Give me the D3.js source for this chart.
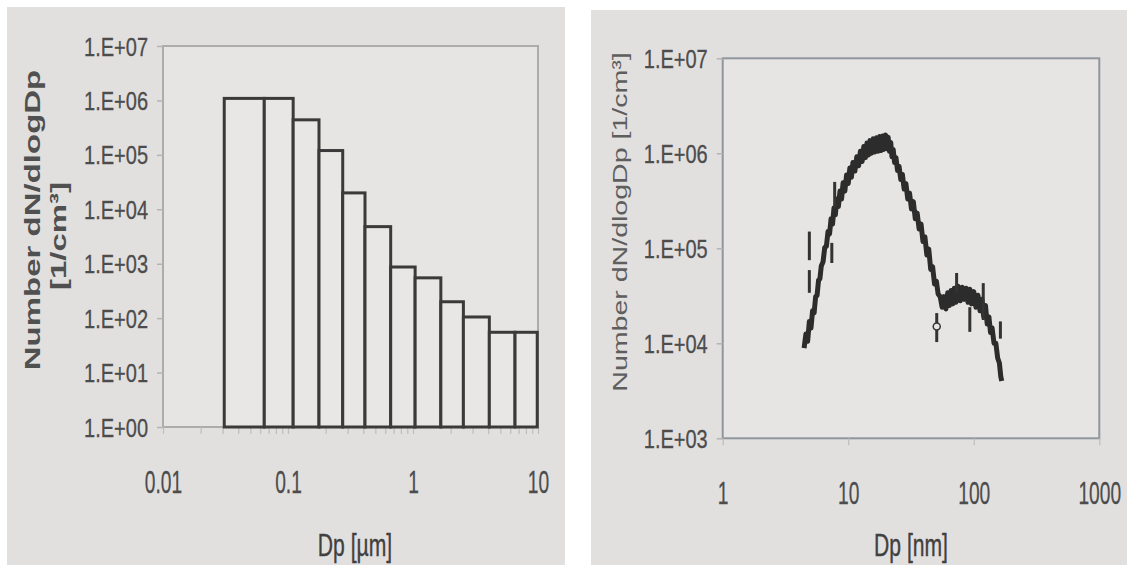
<!DOCTYPE html>
<html>
<head>
<meta charset="utf-8">
<script src="https://cdn.jsdelivr.net/npm/d3@7"></script>
<style>
    html, body { margin: 0; padding: 0; background: #fff; }
    svg { display: block; }
    text { font-family: "Liberation Sans", Arial, sans-serif; }
</style>
</head>
<body>
<svg id="chart" width="1127" height="565"></svg>
<script>
// ---- left chart: impactor stages (um) ----
const stageEdges = [0.0309, 0.0646, 0.110, 0.177, 0.274, 0.413, 0.663, 1.04, 1.67, 2.53, 4.08, 6.55, 9.86];
const stageValues = [1.09e6, 1.09e6, 4.4e5, 1.2e5, 2.0e4, 4.8e3, 870, 550, 200, 105, 55, 55];
const leftYTicks = [1, 1e1, 1e2, 1e3, 1e4, 1e5, 1e6, 1e7];
const leftXTicks = [0.01, 0.1, 1, 10];

// ---- right chart: scanning sizer (nm) ----
const scanDp = [4.45, 4.6, 4.75, 4.9, 5.05, 5.2, 5.35, 5.5, 5.65, 5.8, 5.95, 6.1, 6.3, 6.5, 6.7, 6.9, 7.1, 7.3, 7.5, 7.7,
    7.9, 8.1, 8.35, 8.6, 8.85, 9.1, 9.4, 9.7, 10.0, 10.3, 10.6, 10.9, 11.3, 11.7, 12.1, 12.5, 12.9, 13.3, 13.7, 14.1,
    14.5, 14.9, 15.3, 15.8, 16.3, 16.8, 17.3, 17.8, 18.3, 18.8, 19.3, 19.8, 20.3, 20.8, 21.3, 21.8, 22.3, 22.8, 23.4, 24.0,
    24.7, 25.4, 26.2, 27.0, 27.9, 28.8, 29.8, 30.8, 31.9, 33.0, 34.2, 35.4, 36.7, 38.0, 39.4, 40.8, 42.3, 43.8, 45.4, 47.0,
    48.7, 50.4, 52, 54, 56, 58, 60, 62, 64, 66, 68, 70, 72, 75, 78, 81, 84, 87, 90, 93,
    96, 100, 104, 108, 112, 116, 120, 124, 128, 132, 136, 140, 145, 150, 155, 160, 164, 167];
const scanN = [8.9e3, 1.25e4, 1.05e4, 1.7e4, 1.45e4, 2.2e4, 2.1e4, 3.1e4, 3.2e4, 4.6e4, 4.8e4, 6.5e4, 7.2e4, 1.02e5, 1.05e5, 1.5e5, 1.42e5, 2.05e5, 1.8e5, 2.65e5,
    2.25e5, 3.3e5, 2.75e5, 4.0e5, 3.3e5, 4.9e5, 4.0e5, 5.9e5, 4.8e5, 7.0e5, 5.6e5, 8.0e5, 6.5e5, 9.2e5, 7.4e5, 1.05e6, 8.2e5, 1.18e6, 9.0e5, 1.28e6,
    9.6e5, 1.36e6, 1.0e6, 1.42e6, 1.03e6, 1.46e6, 1.05e6, 1.5e6, 1.07e6, 1.52e6, 1.1e6, 1.56e6, 1.12e6, 1.48e6, 1.05e6, 1.3e6, 9.2e5, 1.1e6, 8.0e5, 9.0e5,
    6.6e5, 7.3e5, 5.3e5, 6.0e5, 4.2e5, 4.8e5, 3.3e5, 3.8e5, 2.6e5, 3.1e5, 2.05e5, 2.35e5, 1.6e5, 1.8e5, 1.18e5, 1.32e5, 8.5e4, 9.8e4, 6.0e4, 6.4e4,
    4.2e4, 4.5e4, 3.3e4, 3.1e4, 2.4e4, 3.1e4, 2.3e4, 3.4e4, 2.5e4, 3.6e4, 2.6e4, 3.8e4, 2.7e4, 4.0e4, 2.8e4, 3.9e4, 2.9e4, 3.8e4, 2.7e4, 3.7e4,
    2.6e4, 3.5e4, 2.4e4, 3.2e4, 2.2e4, 2.9e4, 1.9e4, 2.5e4, 1.6e4, 1.9e4, 1.3e4, 1.45e4, 1.0e4, 1.0e4, 7.0e3, 6.2e3, 4.5e3, 4.0e3];
// scattered spikes off the curve: [Dp, low, high]
const scanSpikes = [[4.9, 7.5e4, 1.5e5], [4.9, 3.4e4, 5.9e4], [7.4, 7.0e4, 1.14e5], [7.8, 2.7e5, 5.0e5],
    [50.7, 1.03e4, 2.08e4], [73, 3.4e4, 5.5e4], [93, 1.32e4, 2.4e4], [119, 1.76e4, 4.3e4], [163, 1.12e4, 1.7e4]];
const scanRings = [[50.7, 1.5e4]];
const rightYTicks = [1e3, 1e4, 1e5, 1e6, 1e7];
const rightXTicks = [1, 10, 100, 1000];

const svg = d3.select('#chart');
const ink = '#3a3a3a';
const label = '#4c4c4c';

const expLabel = d => '1.E+' + String(Math.round(Math.log10(d))).padStart(2, '0');

// squeeze text horizontally (the scanned figure is stretched vertically)
function squeeze(sel, sx) {
    sel.each(function() {
        const t = d3.select(this);
        const x = +t.attr('x') || 0;
        t.attr('x', x / sx).attr('transform', `scale(${sx},1)`);
    });
}

function panel(x0, y0, x1, y1) {
    svg.append('rect').attr('x', x0).attr('y', y0)
        .attr('width', x1 - x0).attr('height', y1 - y0)
        .attr('fill', '#e2e0de');
}

function yAxis(g, y, ticks) {
    g.call(d3.axisLeft(y).tickValues(ticks).tickFormat(expLabel).tickSize(6).tickPadding(9));
    g.select('.domain').remove();
    g.selectAll('line').attr('stroke', '#b4b4b4').attr('stroke-width', 1.5);
    g.selectAll('text')
        .attr('fill', label).attr('stroke', label).attr('stroke-width', 0.3)
        .style('font-size', '25px').attr('dy', '0.36em');
    squeeze(g.selectAll('text'), 0.8);
}

function xAxis(g, x, ticks, labelled) {
    g.call(d3.axisBottom(x).tickValues(ticks)
        .tickFormat(d => labelled.includes(d) ? String(d) : '').tickSize(7));
    g.select('.domain').remove();
    g.selectAll('line').attr('stroke', '#bdbdbd').attr('stroke-width', 1.2);
    g.selectAll('text')
        .attr('fill', label).attr('stroke', label).attr('stroke-width', 0.3)
        .style('font-size', '32px').attr('y', 66).attr('dy', 0);
    squeeze(g.selectAll('text'), 0.6);
}

function rotatedTitle(x, y, text, size, weight, color, stretch) {
    svg.append('text')
        .attr('transform', `translate(${x},${y}) rotate(-90) scale(${stretch},1)`)
        .attr('text-anchor', 'middle')
        .style('font-size', size + 'px')
        .style('font-weight', weight)
        .attr('fill', color)
        .text(text);
}

function bottomTitle(x, y, text) {
    svg.append('text')
        .attr('transform', `translate(${x},${y}) scale(0.66,1)`)
        .attr('text-anchor', 'middle')
        .style('font-size', '32px')
        .attr('fill', '#404040').attr('stroke', '#404040').attr('stroke-width', 0.4)
        .text(text);
}

// ---------- left chart ----------
panel(7, 7, 565, 565);

const xL = d3.scaleLog().domain([0.01, 10]).range([163, 538]);
const yL = d3.scaleLog().domain([1, 1e7]).range([427, 46]);

svg.append('rect')
    .attr('x', xL(0.01)).attr('y', yL(1e7))
    .attr('width', xL(10) - xL(0.01)).attr('height', yL(1) - yL(1e7))
    .attr('fill', '#e6e5e3').attr('stroke', '#acacac').attr('stroke-width', 2);

const minorL = [];
[0.01, 0.1, 1].forEach(dec => d3.range(1, 10).forEach(m => minorL.push(dec * m)));
minorL.push(10);

xAxis(svg.append('g').attr('transform', `translate(0,${yL(1)})`), xL, minorL, leftXTicks);
yAxis(svg.append('g').attr('transform', `translate(${xL(0.01)},0)`), yL, leftYTicks);

svg.append('g').selectAll('rect')
    .data(stageValues)
    .enter().append('rect')
    .attr('x', (d, i) => xL(stageEdges[i]))
    .attr('y', d => yL(d))
    .attr('width', (d, i) => xL(stageEdges[i + 1]) - xL(stageEdges[i]))
    .attr('height', d => yL(1) - yL(d))
    .attr('fill', '#e8e7e5')
    .attr('stroke', ink)
    .attr('stroke-width', 3);

rotatedTitle(40, 220, 'Number dN/dlogDp', 22, 'bold', '#505050', 1.5);
rotatedTitle(66, 236, '[1/cm³]', 22, 'bold', '#505050', 1.5);
bottomTitle(355, 556, 'Dp [µm]');

// ---------- right chart ----------
panel(591, 10, 1127, 565);

const xR = d3.scaleLog().domain([1, 1000]).range([722.7, 1099.3]);
const yR = d3.scaleLog().domain([1e3, 1e7]).range([438.3, 58.3]);

svg.append('rect')
    .attr('x', xR(1)).attr('y', yR(1e7))
    .attr('width', xR(1000) - xR(1)).attr('height', yR(1e3) - yR(1e7))
    .attr('fill', '#e6e5e3').attr('stroke', '#8f969d').attr('stroke-width', 2);

xAxis(svg.append('g').attr('transform', `translate(0,${yR(1e3)})`), xR, rightXTicks, rightXTicks);
yAxis(svg.append('g').attr('transform', `translate(${xR(1)},0)`), yR, rightYTicks);

const scanLine = d3.line()
    .x(d => xR(d[0]))
    .y(d => yR(d[1]));

svg.append('path')
    .attr('d', scanLine(d3.zip(scanDp, scanN)))
    .attr('fill', 'none')
    .attr('stroke', '#2c2c2c')
    .attr('stroke-width', 5)
    .attr('stroke-linejoin', 'round');

svg.append('g').selectAll('line')
    .data(scanSpikes)
    .enter().append('line')
    .attr('x1', d => xR(d[0])).attr('x2', d => xR(d[0]))
    .attr('y1', d => yR(d[1])).attr('y2', d => yR(d[2]))
    .attr('stroke', '#333').attr('stroke-width', 3);

svg.append('g').selectAll('circle')
    .data(scanRings)
    .enter().append('circle')
    .attr('cx', d => xR(d[0])).attr('cy', d => yR(d[1]))
    .attr('r', 3.5)
    .attr('fill', '#e6e5e3').attr('stroke', '#333').attr('stroke-width', 1.5);

rotatedTitle(627, 222, 'Number dN/dlogDp [1/cm³]', 21, 'normal', '#5e5e5e', 1.36);
bottomTitle(911, 556, 'Dp [nm]');
</script>
</body>
</html>
